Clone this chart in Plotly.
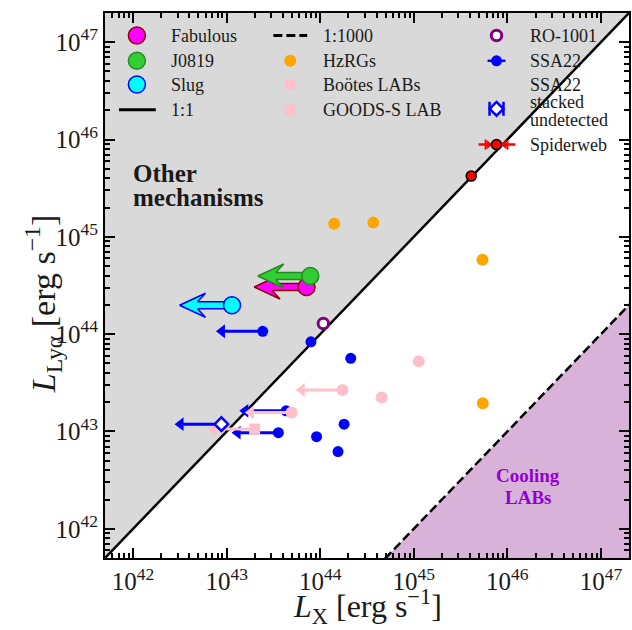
import numpy as np
import plotly.graph_objects as go

# ---------------- data (luminosities in erg/s) ----------------
fab_lx, fab_lya = [7.14e43], [3.05e44]          # upper limit in L_X
j0819_lx, j0819_lya = [7.83e43], [3.96e44]      # upper limit in L_X
slug_lx, slug_lya = [1.14e43], [1.98e44]        # upper limit in L_X

ssa22_lx = [7.96e43, 2.12e44, 1.80e44, 9.14e43, 1.55e44]
ssa22_lya = [8.34e43, 5.64e43, 1.19e43, 8.85e42, 6.21e42]
ssa22_ul_lx = [2.43e43, 4.32e43, 3.57e43]
ssa22_ul_lya = [1.07e44, 1.63e43, 9.73e42]
stack_lx, stack_lya = [8.79e42], [1.19e43]

hzrg_lx = [1.41e44, 3.69e44, 5.42e45, 5.46e45]
hzrg_lya = [1.36e45, 1.40e45, 5.83e44, 1.95e43]

bootes_lx = [4.53e44, 1.13e45]
bootes_lya = [2.24e43, 5.28e43]
bootes_ul_lx = [1.73e44, 4.95e43]
bootes_ul_lya = [2.67e43, 1.57e43]

goods_lx, goods_lya = [1.99e43], [1.06e43]
ro_lx, ro_lya = [1.08e44], [1.29e44]
spider_lx, spider_lya = [4.11e45], [4.21e45]

decades = [42, 43, 44, 45, 46, 47]
tick_text = [f"10<sup>{d}</sup>" for d in decades]

# ---------------- layout constants ----------------
W, H = 632, 630
ML, MR, MT, MB = 105, 1, 13, 72
XR = [41.7, 47.3]
YR = [41.7, 47.3]
PW, PH = W - ML - MR, H - MT - MB
PPD_X = PW / (XR[1] - XR[0])   # pixels per decade
PPD_Y = PH / (YR[1] - YR[0])
FONT = "Liberation Serif"
INK = "#1a1a1a"

UL_DEX = 0.5        # length of thin upper-limit arrows
FAT_DEX = 0.56      # length of the big arrows
GRAY = "rgba(128,128,128,0.3)"
PURPLE = "rgba(128,0,128,0.3)"

fig = go.Figure()

# ---------------- shaded regions and reference lines ----------------
lo, hi = XR[0] - 0.2, XR[1] + 0.2
fig.add_trace(go.Scatter(x=10 ** np.array([lo, hi, lo, lo]), y=10 ** np.array([lo, hi, hi, lo]),
                         fill="toself", fillcolor=GRAY, mode="none", hoverinfo="skip"))
fig.add_trace(go.Scatter(x=10 ** np.array([lo + 3, hi, hi, lo + 3]), y=10 ** np.array([lo, hi - 3, lo, lo]),
                         fill="toself", fillcolor=PURPLE, mode="none", hoverinfo="skip"))
fig.add_trace(go.Scatter(x=10 ** np.array([lo, hi]), y=10 ** np.array([lo, hi]), mode="lines",
                         line=dict(color="black", width=2.5), hoverinfo="skip"))
fig.add_trace(go.Scatter(x=10 ** np.array([lo + 3, hi]), y=10 ** np.array([lo, hi - 3]), mode="lines",
                         line=dict(color="black", width=2.5, dash="9px,4px"), hoverinfo="skip"))


def thin_arrows(lx, lya, color, size=12, width=3):
    """Horizontal upper-limit arrows pointing to lower L_X."""
    sx, sy, hx, hy = [], [], [], []
    r = size / 2
    for a, b in zip(lx, lya):
        x0, y0 = np.log10(a), np.log10(b)
        tip = x0 - UL_DEX
        hc = tip + r / PPD_X
        sx += [10 ** x0, 10 ** (hc + 0.3 * r / PPD_X), None]
        sy += [10 ** y0, 10 ** y0, None]
        hx.append(10 ** hc)
        hy.append(10 ** y0)
    fig.add_trace(go.Scatter(x=sx, y=sy, mode="lines", line=dict(color=color, width=width),
                             hoverinfo="skip"))
    fig.add_trace(go.Scatter(x=hx, y=hy, mode="markers", hoverinfo="skip",
                             marker=dict(symbol="triangle-left", size=size, color=color, line_width=0)))


def fat_arrow(lx, lya, fill, edge):
    x0, y0 = np.log10(lx[0]), np.log10(lya[0])
    tip = x0 - FAT_DEX
    hl, notch, hw, sw = 26, 18, 12, 3.5
    dx, dy = (lambda p: p / PPD_X), (lambda p: p / PPD_Y)
    xs = [tip, tip + dx(hl), tip + dx(notch), x0, x0, tip + dx(notch), tip + dx(hl), tip]
    ys = [y0, y0 + dy(hw), y0 + dy(sw), y0 + dy(sw), y0 - dy(sw), y0 - dy(sw), y0 - dy(hw), y0]
    fig.add_trace(go.Scatter(x=10 ** np.array(xs), y=10 ** np.array(ys), fill="toself", fillcolor=fill,
                             mode="lines", line=dict(color=edge, width=1.5), hoverinfo="skip"))
    fig.add_trace(go.Scatter(x=lx, y=lya, mode="markers",
                             marker=dict(size=17, color=fill, line=dict(color=edge, width=1.5))))


# HzRGs
fig.add_trace(go.Scatter(x=hzrg_lx, y=hzrg_lya, mode="markers",
                         marker=dict(size=12, color="orange", line_width=0)))
# SSA22
thin_arrows(ssa22_ul_lx, ssa22_ul_lya, "blue")
fig.add_trace(go.Scatter(x=ssa22_lx + ssa22_ul_lx, y=ssa22_lya + ssa22_ul_lya, mode="markers",
                         marker=dict(size=11, color="blue", line_width=0)))
# Bootes LABs and GOODS-S LAB
thin_arrows(bootes_ul_lx + goods_lx, bootes_ul_lya + goods_lya, "pink")
fig.add_trace(go.Scatter(x=bootes_lx + bootes_ul_lx, y=bootes_lya + bootes_ul_lya, mode="markers",
                         marker=dict(size=12, color="pink", line_width=0)))
fig.add_trace(go.Scatter(x=goods_lx, y=goods_lya, mode="markers",
                         marker=dict(symbol="square", size=11, color="pink", line_width=0)))
# SSA22 stacked undetected
thin_arrows(stack_lx, stack_lya, "blue")
fig.add_trace(go.Scatter(x=stack_lx, y=stack_lya, mode="markers",
                         marker=dict(symbol="diamond", size=10.5, color="white",
                                     line=dict(color="blue", width=2.5))))
# RO-1001 and Spiderweb
fig.add_trace(go.Scatter(x=ro_lx, y=ro_lya, mode="markers",
                         marker=dict(size=10.5, color="white", line=dict(color="purple", width=3))))
fig.add_trace(go.Scatter(x=spider_lx, y=spider_lya, mode="markers",
                         marker=dict(size=10, color="red", line=dict(color="black", width=1.5))))
# big arrows
fat_arrow(slug_lx, slug_lya, "cyan", "blue")
fat_arrow(fab_lx, fab_lya, "magenta", "darkred")
fat_arrow(j0819_lx, j0819_lya, "limegreen", "forestgreen")

# ---------------- legend, drawn on a pixel-space overlay ----------------
COL_MARK = [137, 291, 498]
COL_TEXT = [169, 322, 530]
ROWS = [35.5, 60.8, 84.5, 109.8]


def leg(x, y, **kw):
    fig.add_trace(go.Scatter(x=x, y=y, xaxis="x2", yaxis="y2", hoverinfo="skip", **kw))


leg([COL_MARK[0]], [ROWS[0]], mode="markers", marker=dict(size=17, color="magenta", line=dict(color="darkred", width=1.5)))
leg([COL_MARK[0]], [ROWS[1]], mode="markers", marker=dict(size=17, color="limegreen", line=dict(color="forestgreen", width=1.5)))
leg([COL_MARK[0]], [ROWS[2]], mode="markers", marker=dict(size=17, color="cyan", line=dict(color="blue", width=1.5)))
leg([COL_MARK[0] - 18, COL_MARK[0] + 19], [ROWS[3]] * 2, mode="lines", line=dict(color="black", width=3))
leg([COL_MARK[1] - 17, COL_MARK[1] + 17], [ROWS[0]] * 2, mode="lines", line=dict(color="black", width=3, dash="9px,4px"))
leg([COL_MARK[1]], [ROWS[1]], mode="markers", marker=dict(size=12, color="orange", line_width=0))
leg([COL_MARK[1]], [ROWS[2]], mode="markers", marker=dict(size=12, color="pink", line_width=0))
leg([COL_MARK[1]], [ROWS[3]], mode="markers", marker=dict(symbol="square", size=11, color="pink", line_width=0))
leg([COL_MARK[2]], [ROWS[0]], mode="markers", marker=dict(size=10.5, color="white", line=dict(color="purple", width=3)))
leg([COL_MARK[2] - 9, COL_MARK[2] + 9], [ROWS[1]] * 2, mode="lines", line=dict(color="blue", width=2.5))
leg([COL_MARK[2]], [ROWS[1]], mode="markers", marker=dict(size=11, color="blue", line_width=0))
dy_ = 108.8
leg([COL_MARK[2] - 7, COL_MARK[2] - 7, None, COL_MARK[2] + 7, COL_MARK[2] + 7, None, COL_MARK[2] - 7, COL_MARK[2] + 7],
    [dy_ - 7, dy_ + 7, None, dy_ - 7, dy_ + 7, None, dy_, dy_], mode="lines", line=dict(color="blue", width=2.5))
leg([COL_MARK[2]], [dy_], mode="markers", marker=dict(symbol="diamond", size=10.5, color="white", line=dict(color="blue", width=2.5)))
sy_ = 144.6
leg([COL_MARK[2] - 18, COL_MARK[2] + 19], [sy_] * 2, mode="lines", line=dict(color="red", width=2.5))
leg([COL_MARK[2] - 8, COL_MARK[2] + 8], [sy_] * 2, mode="markers",
    marker=dict(symbol=["triangle-right", "triangle-left"], size=8, color="red", line_width=0))
leg([COL_MARK[2] - 11, COL_MARK[2] - 11, None, COL_MARK[2] + 11, COL_MARK[2] + 11],
    [sy_ - 5, sy_ + 5, None, sy_ - 5, sy_ + 5], mode="lines", line=dict(color="red", width=2))
leg([COL_MARK[2]], [sy_], mode="markers", marker=dict(size=10, color="red", line=dict(color="black", width=1.5)))

legend_text = [
    (COL_TEXT[0], ROWS[0], "Fabulous"), (COL_TEXT[0], ROWS[1], "J0819"),
    (COL_TEXT[0], ROWS[2], "Slug"), (COL_TEXT[0], ROWS[3], "1:1"),
    (COL_TEXT[1], ROWS[0], "1:1000"), (COL_TEXT[1], ROWS[1], "HzRGs"),
    (COL_TEXT[1], ROWS[2], "Boötes LABs"), (COL_TEXT[1], ROWS[3], "GOODS-S LAB"),
    (COL_TEXT[2], ROWS[0], "RO-1001"), (COL_TEXT[2], ROWS[1], "SSA22"),
    (COL_TEXT[2], 84.5, "SSA22"), (COL_TEXT[2], 102.0, "stacked"), (COL_TEXT[2], 119.5, "undetected"),
    (COL_TEXT[2], sy_, "Spiderweb"),
]
annotations = [dict(x=x, y=y, xref="x2", yref="y2", text=t, showarrow=False, xanchor="left",
                    yanchor="middle", font=dict(family=FONT, size=18, color=INK))
               for x, y, t in legend_text]

# region labels
for y, t in [(173, "Other"), (197, "mechanisms")]:
    annotations.append(dict(x=131, y=y, xref="x2", yref="y2", text=f"<b>{t}</b>", showarrow=False,
                            xanchor="left", yanchor="middle", font=dict(family=FONT, size=25, color=INK)))
for y, t in [(475, "Cooling"), (497, "LABs")]:
    annotations.append(dict(x=530, y=y, xref="x2", yref="y2", text=f"<b>{t}</b>", showarrow=False,
                            xanchor="center", yanchor="middle", font=dict(family=FONT, size=19, color="#9400d3")))

# axis titles placed in paper units just outside the plotting area
annotations.append(dict(x=0.5, y=-(606 - (H - MB)) / PH, xref="paper", yref="paper",
                        text="<i>L</i><sub>X</sub> [erg s<sup>−1</sup>]", showarrow=False,
                        xanchor="center", yanchor="middle", font=dict(family=FONT, size=32, color=INK)))
annotations.append(dict(x=(42 - ML) / PW, y=((H - MB) - 304) / PH, xref="paper", yref="paper",
                        text="<i>L</i><sub>Lyα</sub> [erg s<sup>−1</sup>]", showarrow=False, textangle=-90,
                        xanchor="center", yanchor="middle", font=dict(family=FONT, size=34, color=INK)))

minor_vals = [k * 10.0 ** d for d in range(41, 48) for k in range(2, 10)]
axis_common = dict(
    type="log", tickvals=[10.0 ** d for d in decades], ticktext=tick_text,
    ticks="inside", ticklen=10, tickwidth=2, tickcolor="black",
    showline=True, linewidth=2, linecolor="black", mirror="allticks",
    showgrid=False, zeroline=False,
    tickfont=dict(family=FONT, size=25, color=INK),
    minor=dict(tickvals=minor_vals, ticks="inside", ticklen=5, tickwidth=1.5, tickcolor="black", showgrid=False),
)

fig.update_layout(
    width=W, height=H, margin=dict(l=ML, r=MR, t=MT, b=MB),
    plot_bgcolor="white", paper_bgcolor="white", showlegend=False,
    xaxis=dict(range=XR, **axis_common),
    yaxis=dict(range=YR, **axis_common),
    xaxis2=dict(range=[ML, W - MR], overlaying="x", anchor="y2", visible=False, fixedrange=True),
    yaxis2=dict(range=[H - MB, MT], overlaying="y", anchor="x2", visible=False, fixedrange=True),
    annotations=annotations,
)

fig.write_html("out.html")
